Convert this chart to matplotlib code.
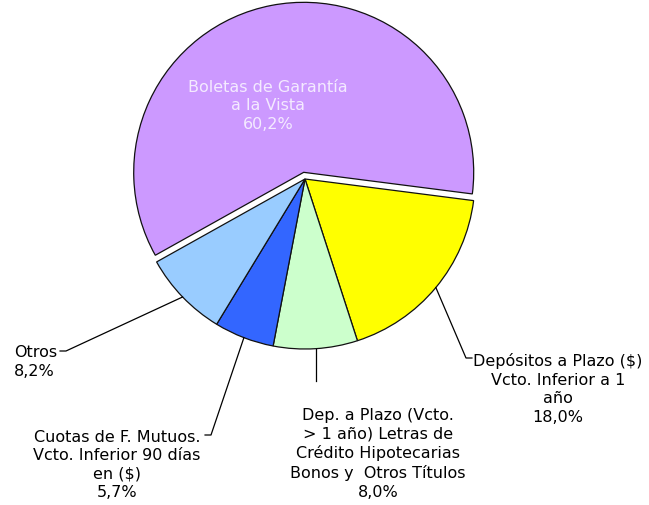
import numpy as np
import matplotlib
matplotlib.use("Agg")
import matplotlib.pyplot as plt

labels = ["Boletas de Garantía\na la Vista",
          "Depósitos a Plazo ($)\nVcto. Inferior a 1\naño",
          "Dep. a Plazo (Vcto.\n> 1 año) Letras de\nCrédito Hipotecarias\nBonos y  Otros Títulos",
          "Cuotas de F. Mutuos.\nVcto. Inferior 90 días\nen ($)",
          "Otros"]
values = [60.2, 18.0, 8.0, 5.7, 8.2]
pct_text = ["60,2%", "18,0%", "8,0%", "5,7%", "8,2%"]
colors = ["#CC99FF", "#FFFF00", "#CCFFCC", "#3366FF", "#99CCFF"]
explode = [0.04, 0, 0, 0, 0]

W, H = 649, 506
R = 170.0
cx, cy = 305.0, 180.0

def px(x, y):
    return ((x - cx) / R, (cy - y) / R)

fig = plt.figure(figsize=(W / 100, H / 100), dpi=100)
ax = fig.add_axes([0, 0, 1, 1])

wedges, _ = ax.pie(values, colors=colors, explode=explode, startangle=209.2,
                   counterclock=False, radius=1.0,
                   wedgeprops=dict(edgecolor="#111111", linewidth=0.9))
ax.set_xlim(-cx / R, (W - cx) / R)
ax.set_ylim(-(H - cy) / R, cy / R)
ax.set_aspect("equal")
ax.axis("off")

fs = 11.5
fam = "DejaVu Sans"
ls = 1.3

# Main label inside
x, y = px(268, 106)
ax.text(x, y, labels[0] + "\n" + pct_text[0], ha="center", va="center",
        color="#F4EAFF", fontsize=fs, family=fam, linespacing=ls)

# Outside labels: (text anchor px, ha, leader end near text px)
outside = {
    1: ((558, 389), "center", (466, 359)),
    2: ((378, 454), "center", (319, 382)),
    3: ((117, 465), "center", (211, 436)),
    4: ((14, 362), "left", (66, 352)),
}
for i, ((tx, ty), ha, (lx, ly)) in outside.items():
    x, y = px(tx, ty)
    ax.text(x, y, labels[i] + "\n" + pct_text[i], ha=ha, va="center",
            multialignment="left" if ha == "left" else "center",
            color="black", fontsize=fs, family=fam, linespacing=ls)
    w = wedges[i]
    mid = np.deg2rad((w.theta1 + w.theta2) / 2)
    ex, ey = np.cos(mid) * 1.0, np.sin(mid) * 1.0
    ax0, ay0 = px(lx, ly)
    if i == 1:
        pts_x = [ax0 + 0.035, ax0, ex]
        pts_y = [ay0, ay0, ey]
    elif i in (3, 4):
        pts_x = [ax0 - 0.035, ax0, ex]
        pts_y = [ay0, ay0, ey]
    else:
        pts_x = [ex, ex]
        pts_y = [ay0, ey]
    ax.plot(pts_x, pts_y, color="black", linewidth=0.9)

fig.savefig("out.png", dpi=100, facecolor="white")
